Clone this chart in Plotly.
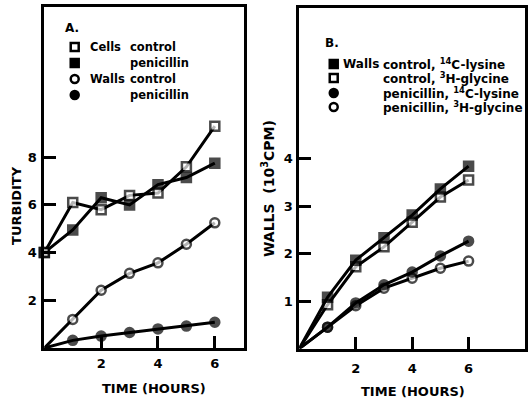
import plotly.graph_objects as go

# ---------------- data ----------------
hours = [0, 1, 2, 3, 4, 5, 6]

# Panel A: turbidity
cells_control = [4.0, 6.1, 5.8, 6.4, 6.5, 7.6, 9.3]
cells_penicillin = [4.0, 4.95, 6.3, 6.0, 6.85, 7.15, 7.75]
walls_control = [0.0, 1.2, 2.42, 3.13, 3.57, 4.35, 5.25]
walls_penicillin = [0.0, 0.32, 0.5, 0.65, 0.8, 0.92, 1.08]

# Panel B: walls (10^3 CPM)
ctrl_lysine = [0.0, 1.08, 1.86, 2.33, 2.81, 3.36, 3.84]
ctrl_glycine = [0.0, 0.92, 1.72, 2.14, 2.66, 3.19, 3.55]
pen_lysine = [0.0, 0.45, 0.96, 1.34, 1.61, 1.95, 2.26]
pen_glycine = [0.0, 0.45, 0.9, 1.27, 1.48, 1.69, 1.84]

x_ticks = [2, 4, 6]
a_y_ticks = [2, 4, 6, 8]
b_y_ticks = [1, 2, 3, 4]

# ---------------- style ----------------
W, H = 528, 400
FONT = "DejaVu Sans"
BLACK = "black"
LW = 3
MS = 9


def px(x):
    return x / W


def py(y):
    return 1 - y / H


def sizes(vals):
    return [0 if v == 0 else MS for v in vals]


def trace(y, symbol, filled, xa, ya):
    return go.Scatter(
        x=hours, y=y, mode="lines+markers", xaxis=xa, yaxis=ya,
        line=dict(color=BLACK, width=LW),
        marker=dict(symbol=symbol, size=sizes(y),
                    color=BLACK if filled else "white",
                    line=dict(color=BLACK, width=2.5)),
        cliponaxis=False, showlegend=False,
    )


fig = go.Figure()
fig.add_trace(trace(walls_penicillin, "circle", True, "x", "y"))
fig.add_trace(trace(walls_control, "circle", False, "x", "y"))
fig.add_trace(trace(cells_penicillin, "square", True, "x", "y"))
fig.add_trace(trace(cells_control, "square", False, "x", "y"))

fig.add_trace(trace(pen_glycine, "circle", False, "x2", "y2"))
fig.add_trace(trace(pen_lysine, "circle", True, "x2", "y2"))
fig.add_trace(trace(ctrl_glycine, "square", False, "x2", "y2"))
fig.add_trace(trace(ctrl_lysine, "square", True, "x2", "y2"))

axis_common = dict(
    showgrid=False, zeroline=False, showline=True, mirror=True,
    linewidth=LW, linecolor=BLACK, ticks="inside", ticklen=12,
    tickwidth=3, tickcolor=BLACK,
    tickfont=dict(family=FONT, size=13, color=BLACK, weight="bold"),
)

fig.update_layout(
    width=W, height=H,
    margin=dict(l=0, r=0, t=0, b=0),
    paper_bgcolor="white", plot_bgcolor="white",
    font=dict(family=FONT, color=BLACK),
    xaxis=dict(domain=[px(44.5), px(245)], range=[0, 7.03],
               tickvals=x_ticks, anchor="y", ticklabelstandoff=1,
               **axis_common),
    yaxis=dict(domain=[py(348), py(7)], range=[0, 14.3],
               tickvals=a_y_ticks, anchor="x", ticklabelstandoff=2,
               **axis_common),
    xaxis2=dict(domain=[px(300.5), px(527)], range=[0, 8.0],
                tickvals=x_ticks, anchor="y2", ticklabelstandoff=6,
                **axis_common),
    yaxis2=dict(domain=[py(348.5), py(8)], range=[0, 7.17],
                tickvals=b_y_ticks, anchor="x2", ticklabelstandoff=1,
                **axis_common),
)

annotations = []


def text(x, y, s, size=11.5, xanchor="left", angle=0):
    annotations.append(dict(
        x=px(x), y=py(y), xref="paper", yref="paper", text=s,
        showarrow=False, xanchor=xanchor, yanchor="middle",
        textangle=angle,
        font=dict(family=FONT, size=size, color=BLACK, weight="bold"),
    ))


# axis titles
text(155, 388, "TIME (HOURS)", size=13, xanchor="center")
text(415, 391, "TIME (HOURS)", size=13, xanchor="center")
text(17, 205, "TURBIDITY", size=13, xanchor="center", angle=-90)
text(269, 188, "WALLS  (10<sup>3</sup>CPM)", size=14, xanchor="center", angle=-90)

# panel A legend
text(63, 28, "A.", size=12)
text(88, 47, "Cells")
text(128, 47, "control")
text(128, 63, "penicillin")
text(88, 79, "Walls")
text(128, 79, "control")
text(128, 95, "penicillin")

# panel B legend
text(324, 43, "B.", size=12)
text(342, 64, "Walls", size=12)
text(382, 64, "control, <sup>14</sup>C-lysine", size=12)
text(382, 78, "control, <sup>3</sup>H-glycine", size=12)
text(382, 93, "penicillin, <sup>14</sup>C-lysine", size=12)
text(382, 107, "penicillin, <sup>3</sup>H-glycine", size=12)

fig.update_layout(annotations=annotations)

# legend keys
shapes = []


def key(x, y, kind, filled, r=4):
    shapes.append(dict(
        type="rect" if kind == "square" else "circle",
        xref="paper", yref="paper",
        x0=px(x - r), x1=px(x + r), y0=py(y + r), y1=py(y - r),
        fillcolor=BLACK if filled else "white",
        line=dict(color=BLACK, width=2.5),
    ))


key(75, 47, "square", False)
key(75, 63, "square", True)
key(75, 79, "circle", False)
key(75, 95, "circle", True)

key(335, 64, "square", True)
key(335, 78, "square", False)
key(335, 93, "circle", True)
key(335, 107, "circle", False)

fig.update_layout(shapes=shapes)

fig.write_html("out.html")
